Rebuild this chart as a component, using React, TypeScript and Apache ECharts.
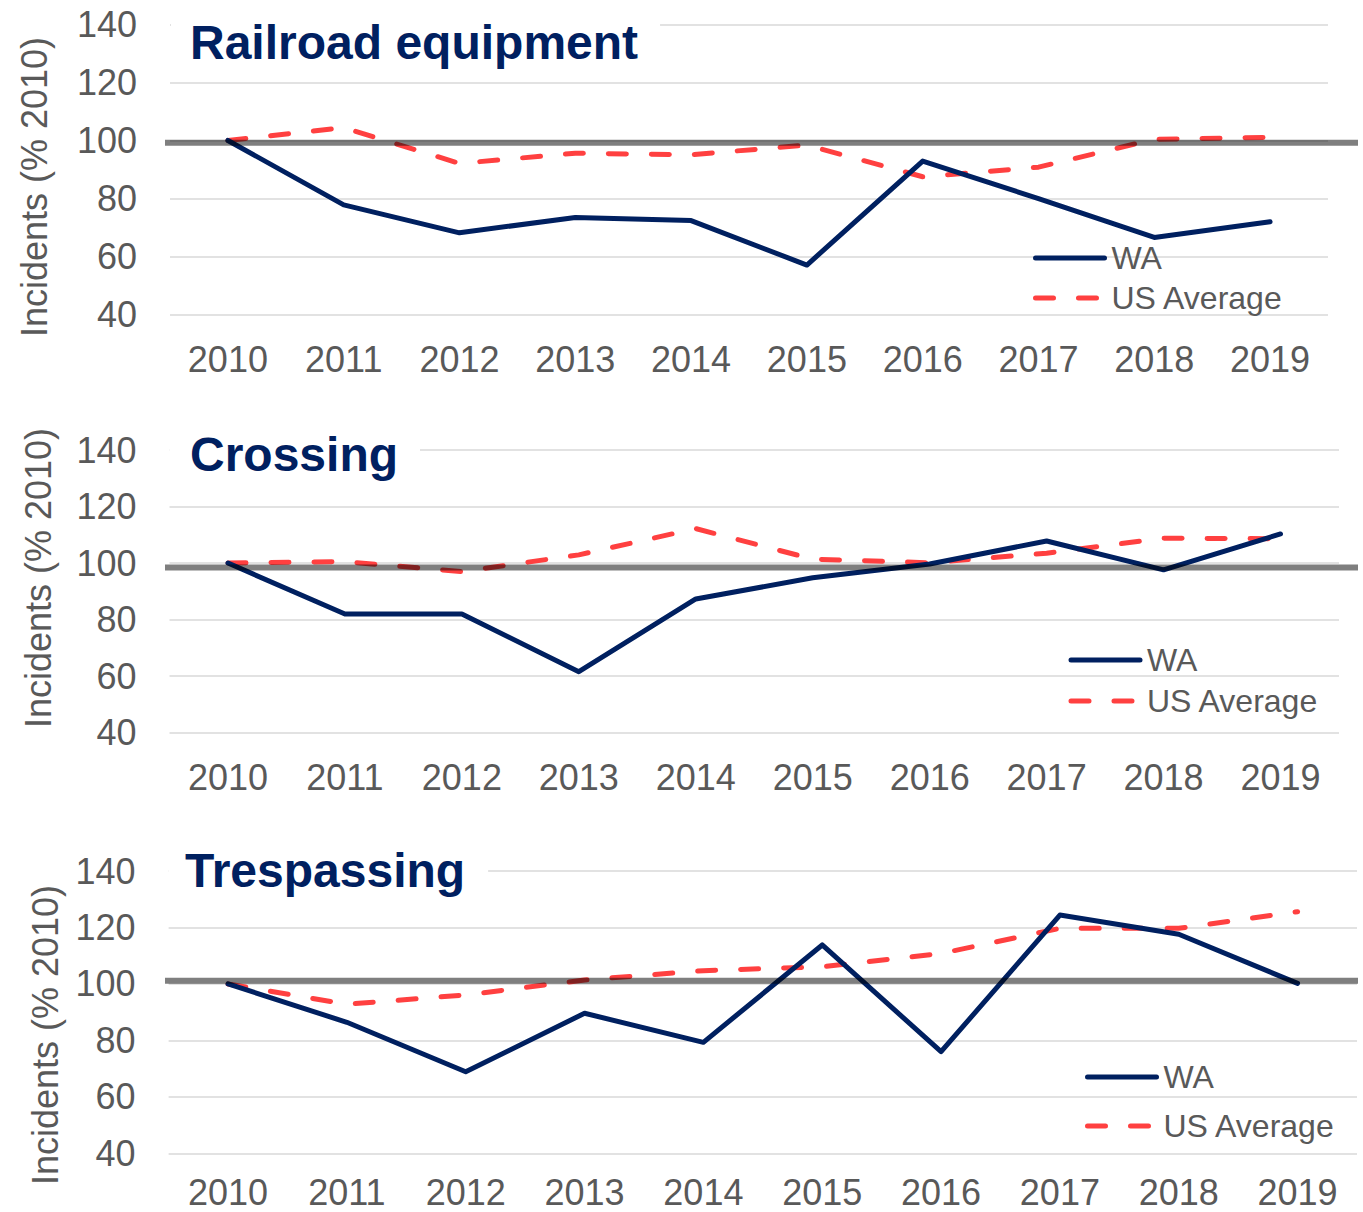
import React, { useEffect, useRef } from "react";
import * as echarts from "echarts";

const years = ["2010", "2011", "2012", "2013", "2014", "2015", "2016", "2017", "2018", "2019"];
const seriesNames = ["WA", "US Average"];
const panelTitles = ["Railroad equipment", "Crossing", "Trespassing"];
const axisName = "Incidents (% 2010)";

const railroadWA = [100, 77.8, 68.2, 73.5, 72.4, 57.1, 92.9, 80.0, 66.6, 72.0];
const railroadUS = [100, 104.4, 92.1, 95.6, 95.1, 98.4, 87.5, 90.8, 100.4, 101.1];
const crossingWA = [100, 82.0, 82.0, 61.6, 87.3, 94.8, 99.7, 107.8, 97.6, 110.3];
const crossingUS = [100, 100.5, 97.0, 102.9, 112.2, 101.4, 100.1, 103.5, 108.8, 108.6];
const trespassWA = [100, 86.4, 68.9, 89.6, 79.3, 113.8, 76.0, 124.4, 117.6, 100.2];
const trespassUS = [100, 92.8, 96.1, 101.4, 104.7, 106.1, 110.8, 119.7, 119.7, 125.6];

const referenceLevels = [99.2, 98.4, 101.1];
const yMin = 40;
const yMax = 140;
const yStep = 20;

const panelData = [
  [railroadWA, railroadUS],
  [crossingWA, crossingUS],
  [trespassWA, trespassUS],
];

// layout (pixels)
const W = 1363;
const H = 1212;
const gridsLayout = [
  { left: 170, right: 35, top: 24.3, height: 290.4 },
  { left: 169.5, right: 24, top: 450, height: 282.7 },
  { left: 168.6, right: 6, top: 871, height: 282.3 },
];
const xLabelMargins = [29.5, 29.5, 24.5];
const titleLayout = [
  { left: 171, top: 14, padding: [4, 22, 4, 19] },
  { left: 169.5, top: 426.5, padding: [4, 22, 4, 20.5] },
  { left: 168.6, top: 842.5, padding: [4, 23, 4, 16.4] },
];
const legendLayout = [
  { left: 1033, top: 242, gap: 8 },
  { left: 1068.5, top: 644, gap: 9 },
  { left: 1085, top: 1061, gap: 17 },
];
const axisNamePos = [
  { x: 34, y: 187 },
  { x: 38, y: 578 },
  { x: 45, y: 1035 },
];
const refLineX = [165, 1358];

const NAVY = "#002060";
const RED = "#FF4040";
const GREY_TEXT = "#595959";
const FONT = "'Liberation Sans', Arial, sans-serif";

export default function App() {
  const ref = useRef<HTMLDivElement>(null);

  useEffect(() => {
    document.body.style.margin = "0";
    if (!ref.current) return;
    const chart = echarts.init(ref.current, undefined, { renderer: "svg" });

    const grid = gridsLayout.map((g) => ({ ...g, containLabel: false }));
    const xAxis = gridsLayout.map((_, i) => ({
      type: "category",
      gridIndex: i,
      data: years,
      boundaryGap: true,
      axisLine: { show: false },
      axisTick: { show: false },
      axisLabel: {
        color: GREY_TEXT,
        fontSize: 36,
        lineHeight: 30,
        fontFamily: FONT,
        margin: xLabelMargins[i],
      },
    }));
    const yAxis = gridsLayout.map((_, i) => ({
      type: "value",
      gridIndex: i,
      min: yMin,
      max: yMax,
      interval: yStep,
      axisLine: { show: false },
      axisTick: { show: false },
      axisLabel: { color: GREY_TEXT, fontSize: 36, fontFamily: FONT, margin: 33 },
      splitLine: { show: true, lineStyle: { color: "#D9D9D9", width: 1.5 } },
    }));
    const series: any[] = [];
    panelData.forEach((pair, i) => {
      series.push({
        type: "line",
        name: seriesNames[0],
        xAxisIndex: i,
        yAxisIndex: i,
        data: pair[0],
        symbol: "none",
        z: 3,
        lineStyle: { color: NAVY, width: 5, join: "round", cap: "round" },
        itemStyle: { color: NAVY },
      });
      series.push({
        type: "line",
        name: seriesNames[1],
        xAxisIndex: i,
        yAxisIndex: i,
        data: pair[1],
        symbol: "none",
        z: 2,
        lineStyle: { color: RED, width: 5, type: [18, 25], cap: "round", join: "round" },
        itemStyle: { color: RED },
      });
    });
    const title = panelTitles.map((t, i) => ({
      text: t,
      left: titleLayout[i].left,
      top: titleLayout[i].top,
      padding: titleLayout[i].padding,
      backgroundColor: "#FFFFFF",
      textStyle: { color: NAVY, fontSize: 48, fontWeight: "bold", fontFamily: FONT, lineHeight: 48 },
    }));
    const legend = legendLayout.map((l) => ({
      orient: "vertical",
      left: l.left,
      top: l.top,
      itemGap: l.gap,
      itemWidth: 69,
      itemHeight: 14,
      padding: 0,
      data: seriesNames,
      itemStyle: { opacity: 0 },
      lineStyle: { width: 5, cap: "round" },
      textStyle: { color: GREY_TEXT, fontSize: 32, fontFamily: FONT, lineHeight: 32, padding: [0, 0, 0, 2] },
    }));

    chart.setOption({
      animation: false,
      backgroundColor: "#FFFFFF",
      title,
      grid,
      xAxis,
      yAxis,
      series,
      legend,
    });

    const elements: any[] = [];
    axisNamePos.forEach((p, i) => {
      elements.push({
        type: "text",
        id: "name" + i,
        x: p.x,
        y: p.y,
        rotation: Math.PI / 2,
        z: 10,
        style: {
          text: axisName,
          fill: GREY_TEXT,
          fontSize: 36,
          fontFamily: FONT,
          textAlign: "center",
          textVerticalAlign: "middle",
        },
      });
    });
    referenceLevels.forEach((lvl, i) => {
      const py = chart.convertToPixel({ yAxisIndex: i } as any, lvl) as number;
      elements.push({
        type: "line",
        id: "ref" + i,
        z: 100,
        shape: { x1: refLineX[0], y1: py, x2: refLineX[1], y2: py },
        style: { stroke: "rgba(0,0,0,0.5)", lineWidth: 6 },
      });
    });
    chart.setOption({ graphic: { elements } });

    return () => chart.dispose();
  }, []);

  return <div ref={ref} style={{ width: W, height: H }} />;
}
